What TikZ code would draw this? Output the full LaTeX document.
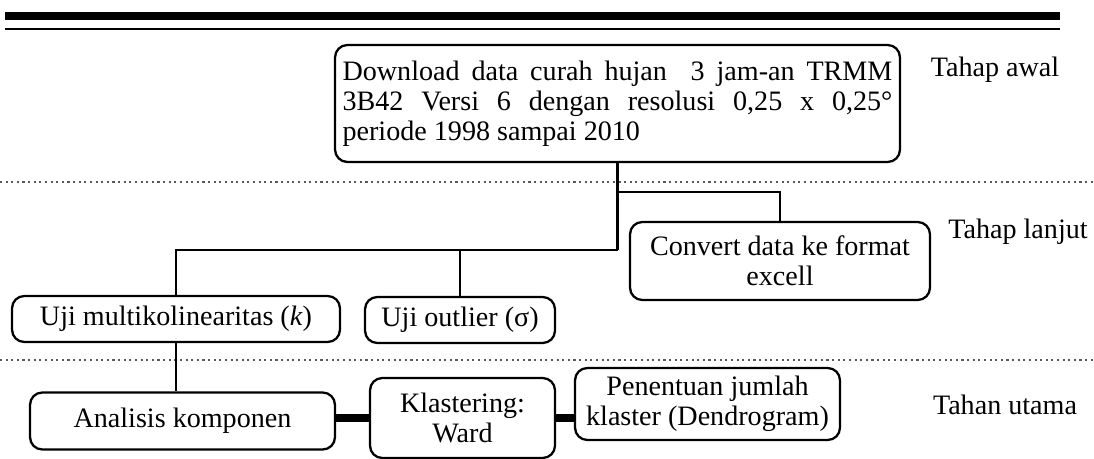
\documentclass[tikz,border=0pt]{standalone}
\usepackage{fontspec}
\setmainfont{Liberation Serif}
\begin{document}
\begin{tikzpicture}[x=0.02cm, y=-0.02cm,
    font=\fontsize{16}{17}\selectfont,
    box/.style={draw, line width=1.3pt, rounded corners=7pt, inner sep=3pt, align=center},
    link/.style={line width=1.6pt},
    bold link/.style={line width=4pt},
    stage/.style={dotted, line width=1.2pt, gray!70!black}]
    \useasboundingbox (0,0) rectangle (1094,459);

    \draw [line width=4pt] (5,16) -- (1060,16);
    \draw [line width=1.2pt] (5,29) -- (1060,29);

    \draw [stage] (0,182) -- (1094,182);
    \draw [stage] (0,360) -- (1094,360);

    \node [box, minimum width=11.3cm, minimum height=2.34cm, text width=11cm, align=justify] (dl) at (617.5,103.5)
        {Download data curah hujan\ \ 3 jam-an TRMM 3B42 Versi 6 dengan resolusi 0,25 x 0,25°\linebreak periode 1998 sampai 2010};
    \node [box, minimum width=6cm, minimum height=1.56cm] (cv) at (780,261) {Convert data ke format\\ excell};
    \node [box, minimum width=6.56cm, minimum height=0.92cm] (um) at (176,319) {Uji multikolinearitas (\textit{k})};
    \node [box, minimum width=3.8cm, minimum height=0.92cm] (uo) at (460,320) {Uji outlier (σ)};
    \node [box, minimum width=6.1cm, minimum height=1.14cm] (ak) at (182.5,421) {Analisis komponen};
    \node [box, minimum width=3.7cm, minimum height=1.6cm] (kw) at (462.5,418) {Klastering:\\ Ward};
    \node [box, minimum width=5.3cm, minimum height=1.44cm] (pj) at (707.5,404) {Penentuan jumlah\\ klaster (Dendrogram)};

    \node (awal) at (995,70) {Tahap awal};
    \node (lanjut) at (1018,232) {Tahap lanjut};
    \node (utama) at (1005,405) {Tahan utama};

    \coordinate (split) at (617.5,250);
    \draw [link] (dl.south) -- (split);
    \draw [link] (dl.south |- 0,192) -| (cv.north);
    \draw [link] (split) -| (um.north);
    \draw [link] (split) -| (uo.north);
    \draw [link] (um.south) -- (um.south |- ak.north);
    \draw [bold link] (ak.east |- kw) -- (kw.west);
    \draw [bold link] (kw.east) -- (kw.east -| pj.west);
\end{tikzpicture}
\end{document}
